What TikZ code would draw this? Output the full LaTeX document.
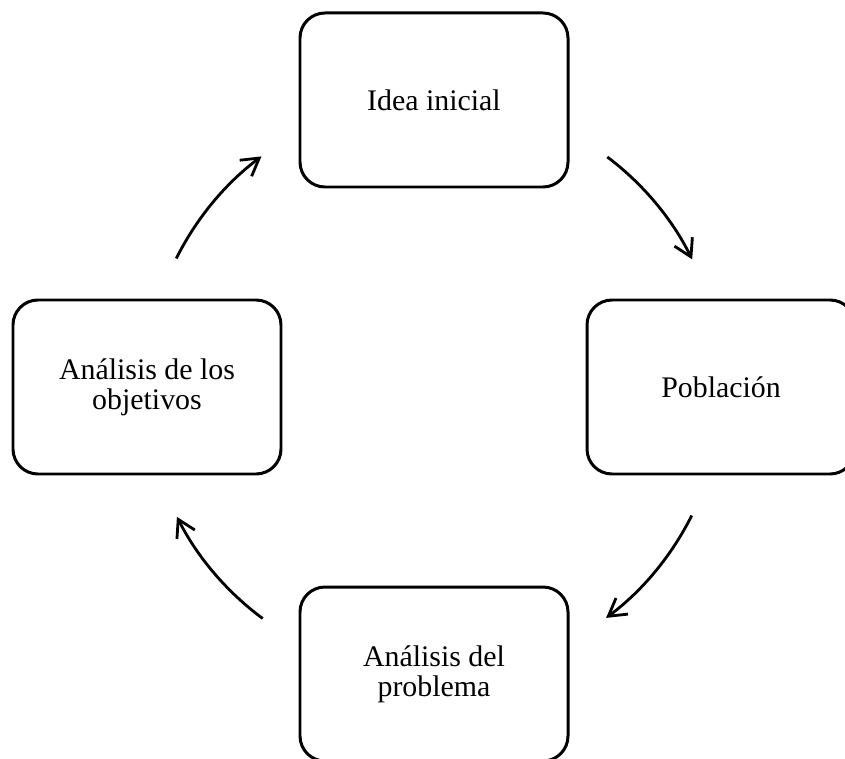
\documentclass[tikz,border=0pt]{standalone}
\usepackage{fontspec}
\setmainfont{Liberation Serif}
\usetikzlibrary{arrows.meta}
\def\rr{5.76}

\begin{document}
\begin{tikzpicture}[
		box/.style={draw, line width=1.7pt, rounded corners=0.5cm, minimum width=5.36cm, minimum height=3.48cm, align=center, font=\fontsize{17}{17}\selectfont},
		cyclearrow/.style={line width=1.6pt, -{Straight Barb[length=3.4mm, width=4mm, line width=1.6pt]}}
	]
			%%%%% START %%%%%
			\useasboundingbox (-8.68, -7.42) rectangle (8.22, 7.74);
			
			\node[box] (idea) at (0, 5.74) {Idea inicial};
			\node[box] (poblacion) at (5.74, 0) {Población};
			\node[box] (problema) at (0, -5.74) {Análisis del\\problema};
			\node[box] (objetivos) at (-5.74, 0) {Análisis de los\\objetivos};
			
			\coordinate (a1) at (53:\rr);
			\coordinate (a2) at (-26.5:\rr);
			\coordinate (a3) at (-126.5:\rr);
			\coordinate (a4) at (153.5:\rr);
			
			\draw[cyclearrow] (a1) arc[start angle=53, end angle=26.3, radius=\rr];
			\draw[cyclearrow] (a2) arc[start angle=-26.5, end angle=-53.3, radius=\rr];
			\draw[cyclearrow] (a3) arc[start angle=-126.5, end angle=-153.2, radius=\rr];
			\draw[cyclearrow] (a4) arc[start angle=153.5, end angle=126.8, radius=\rr];
			
			%%%%% END %%%%%
\end{tikzpicture}
\end{document}
